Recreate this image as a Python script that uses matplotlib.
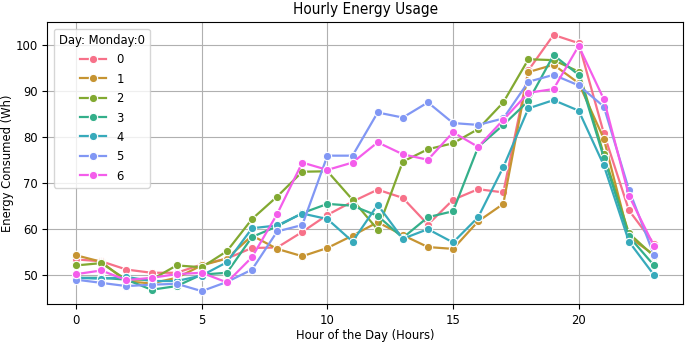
import numpy as np
import matplotlib
matplotlib.use("Agg")
import matplotlib.pyplot as plt
import seaborn as sns

# horas del dia
horas = list(range(24))

# consumo por dia de la semana (Monday = 0)
dia_0 = [53.3, 52.9, 51.1, 50.4, 50.4, 52.2, 53.5, 55.8, 55.9, 59.3, 63.0, 65.9,
         68.5, 66.7, 60.9, 66.3, 68.6, 67.9, 94.5, 102.2, 100.4, 80.8, 64.0, 56.7]
dia_1 = [54.2, 52.8, 48.5, 48.1, 49.3, 52.0, 53.5, 58.5, 55.6, 54.0, 55.8, 58.5,
         61.4, 58.6, 56.0, 55.6, 61.6, 65.4, 94.1, 95.7, 91.7, 79.6, 58.2, 54.3]
dia_2 = [52.0, 52.5, 48.9, 48.9, 52.0, 51.6, 55.1, 62.1, 67.0, 72.4, 72.5, 66.3,
         59.8, 74.6, 77.3, 78.6, 81.7, 87.5, 96.9, 96.7, 94.2, 76.2, 59.0, 54.0]
dia_3 = [49.3, 49.3, 48.9, 46.7, 47.5, 50.0, 50.4, 58.2, 60.5, 63.4, 65.4, 65.0,
         62.8, 58.0, 62.5, 63.8, 77.8, 82.6, 87.8, 97.8, 93.5, 75.5, 58.3, 52.0]
dia_4 = [49.3, 49.1, 49.5, 48.6, 48.6, 49.8, 52.7, 60.1, 60.7, 63.3, 62.1, 57.2,
         65.2, 57.8, 59.9, 57.0, 62.5, 73.4, 86.2, 88.0, 85.7, 73.8, 57.2, 49.9]
dia_5 = [48.9, 48.2, 47.5, 47.8, 48.0, 46.4, 48.4, 51.1, 59.4, 60.8, 75.9, 75.9,
         85.3, 84.2, 87.5, 83.0, 82.6, 84.0, 92.0, 93.5, 91.2, 86.6, 68.5, 54.2]
dia_6 = [50.1, 50.9, 48.8, 49.3, 50.1, 50.4, 48.3, 53.8, 63.2, 74.4, 72.8, 74.4,
         78.8, 76.2, 75.0, 81.0, 77.8, 83.7, 89.6, 90.4, 99.8, 88.2, 67.2, 56.2]

dias = [dia_0, dia_1, dia_2, dia_3, dia_4, dia_5, dia_6]
etiquetas = ["0", "1", "2", "3", "4", "5", "6"]
colores = sns.color_palette("husl", 7)

# texto un poco mas angosto, como en la imagen original
plt.rcParams["font.family"] = ["DejaVu Sans"]
plt.rcParams["font.stretch"] = "condensed"
plt.rcParams["font.size"] = 9.3

fig, ax = plt.subplots(figsize=(6.85, 3.45), dpi=100)
fig.subplots_adjust(left=0.069, right=0.997, top=0.936, bottom=0.119)

for serie, etiqueta, color in zip(dias, etiquetas, colores):
    ax.plot(horas, serie, color=color, linewidth=1.6, marker="o",
            markersize=6, markeredgecolor="white", markeredgewidth=0.8,
            label=etiqueta)

ax.set_title("Hourly Energy Usage", fontsize=11)
ax.set_xlabel("Hour of the Day (Hours)", labelpad=1.5)
ax.set_ylabel("Energy Consumed (Wh)")
ax.yaxis.set_label_coords(-0.052, 0.5)
ax.set_xticks([0, 5, 10, 15, 20])
ax.grid(True, color="#b0b0b0", linewidth=0.8)
ax.legend(title="Day: Monday:0", loc="upper left", fontsize=9.3,
          title_fontsize=9.3)

plt.savefig("out.png", dpi=100)
